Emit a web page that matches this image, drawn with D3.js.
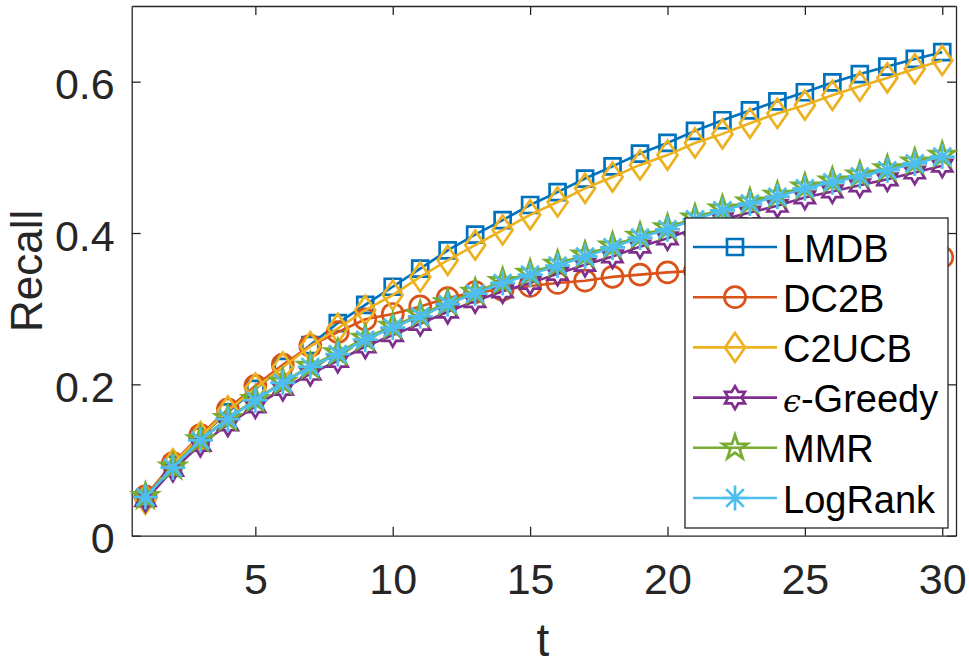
<!DOCTYPE html>
<meta charset="utf-8">
<script src="https://d3js.org/d3.v7.min.js"></script>
<style>

body {
  margin: 0;
  background: #fff;
}
svg {
  display: block;
}

.axis path, .axis line {
  stroke: #262626;
  stroke-width: 1.3px;
  fill: none;
}

.axis text {
  font-family: "Liberation Sans", Arial, sans-serif;
  font-size: 43px;
  fill: #262626;
}

.label {
  font-family: "Liberation Sans", Arial, sans-serif;
  font-size: 46px;
  fill: #262626;
}

.legend text {
  font-family: "Liberation Sans", Arial, sans-serif;
  font-size: 38px;
  fill: #000;
}

</style>
<body>
  <div class="chart"></div>
<script type="text/javascript">

// Data
var steps = [1, 2, 3, 4, 5, 6, 7, 8, 9, 10, 11, 12, 13, 14, 15,
             16, 17, 18, 19, 20, 21, 22, 23, 24, 25, 26, 27, 28, 29, 30];

var lmdb    = [0.050, 0.094, 0.131, 0.163, 0.194, 0.223, 0.252, 0.281, 0.305, 0.329,
               0.353, 0.377, 0.398, 0.417, 0.437, 0.454, 0.472, 0.488, 0.505, 0.519,
               0.535, 0.549, 0.562, 0.574, 0.586, 0.599, 0.610, 0.620, 0.630, 0.639];
var dc2b    = [0.052, 0.096, 0.133, 0.167, 0.198, 0.226, 0.251, 0.269, 0.286, 0.293,
               0.303, 0.314, 0.322, 0.325, 0.330, 0.334, 0.337, 0.342, 0.345, 0.348,
               0.350, 0.352, 0.354, 0.356, 0.358, 0.360, 0.362, 0.364, 0.366, 0.368];
var c2ucb   = [0.048, 0.095, 0.131, 0.165, 0.195, 0.223, 0.250, 0.274, 0.298, 0.318,
               0.342, 0.364, 0.384, 0.404, 0.424, 0.441, 0.459, 0.474, 0.490, 0.503,
               0.519, 0.531, 0.545, 0.558, 0.569, 0.582, 0.594, 0.605, 0.617, 0.628];
var greedy  = [0.047, 0.087, 0.120, 0.147, 0.171, 0.194, 0.214, 0.231, 0.250, 0.265,
               0.280, 0.296, 0.310, 0.323, 0.334, 0.346, 0.358, 0.369, 0.382, 0.393,
               0.406, 0.418, 0.427, 0.436, 0.447, 0.455, 0.463, 0.471, 0.480, 0.489];
var mmr     = [0.052, 0.091, 0.127, 0.155, 0.180, 0.203, 0.224, 0.242, 0.261, 0.277,
               0.292, 0.308, 0.322, 0.336, 0.347, 0.359, 0.371, 0.383, 0.396, 0.407,
               0.420, 0.432, 0.441, 0.450, 0.461, 0.469, 0.477, 0.485, 0.494, 0.503];
var logrank = [0.051, 0.090, 0.126, 0.154, 0.179, 0.202, 0.223, 0.240, 0.259, 0.275,
               0.290, 0.306, 0.320, 0.334, 0.345, 0.357, 0.369, 0.381, 0.394, 0.405,
               0.418, 0.430, 0.439, 0.448, 0.459, 0.467, 0.475, 0.483, 0.492, 0.501];

var names   = ["LMDB", "DC2B", "C2UCB", "-Greedy", "MMR", "LogRank"];
var colors  = ["#0072BD", "#D95319", "#EDB120", "#7E2F8E", "#77AC30", "#4DBEEE"];
var markers = ["square", "circle", "diamond", "hexagram", "pentagram", "asterisk"];
var values  = [lmdb, dc2b, c2ucb, greedy, mmr, logrank];

var xTicks = [5, 10, 15, 20, 25, 30];
var yTicks = [0, 0.2, 0.4, 0.6];

// Sizes
var width = 969,
    height = 665,
    box = {left: 131.7, right: 956, top: 6, bottom: 535.7};

var svg = d3.select(".chart").append("svg")
    .attr("width", width)
    .attr("height", height);

var x = d3.scaleLinear().domain([0.5, 30.5]).range([box.left, box.right]);
var y = d3.scaleLinear().domain([0, 0.7]).range([box.bottom, box.top]);

// Axes, ticks pointing inward, box on all four sides
svg.append("g")
    .attr("class", "axis")
    .attr("transform", "translate(0," + box.bottom + ")")
    .call(d3.axisBottom(x).tickValues(xTicks).tickSizeInner(-9).tickSizeOuter(0).tickPadding(28));

svg.append("g")
    .attr("class", "axis")
    .attr("transform", "translate(0," + box.top + ")")
    .call(d3.axisTop(x).tickValues(xTicks).tickSizeInner(-9).tickSizeOuter(0).tickFormat(""));

svg.append("g")
    .attr("class", "axis y-left")
    .attr("transform", "translate(" + box.left + ",0)")
    .call(d3.axisLeft(y).tickValues(yTicks).tickSizeInner(-9).tickSizeOuter(0).tickPadding(17)
          .tickFormat(function(d) { return d === 0 ? "0" : d3.format(".1f")(d); }));

svg.selectAll(".y-left text").attr("dy", "0.4em");

svg.append("g")
    .attr("class", "axis")
    .attr("transform", "translate(" + box.right + ",0)")
    .call(d3.axisRight(y).tickValues(yTicks).tickSizeInner(-9).tickSizeOuter(0).tickFormat(""));

svg.selectAll(".axis .domain").attr("stroke", "#262626");

// Axis labels
svg.append("text")
    .attr("class", "label")
    .attr("x", 543)
    .attr("y", 656)
    .attr("text-anchor", "middle")
    .text("t");

svg.append("text")
    .attr("class", "label")
    .attr("transform", "translate(42," + ((box.top + box.bottom) / 2) + ") rotate(-90)")
    .attr("text-anchor", "middle")
    .style("font-size", "44px")
    .text("Recall");

// Marker shapes centred on 0,0
function markerPath(type) {
  var p = d3.path(), i, a, r;
  if (type === "square") {
    p.rect(-8, -8, 16, 16);
  } else if (type === "circle") {
    p.moveTo(10.5, 0);
    p.arc(0, 0, 10.5, 0, 2 * Math.PI);
    p.closePath();
  } else if (type === "diamond") {
    p.moveTo(0, -14.5); p.lineTo(10, 0); p.lineTo(0, 14.5); p.lineTo(-10, 0); p.closePath();
  } else if (type === "hexagram") {
    for (i = 0; i < 12; i++) {
      a = -Math.PI / 2 + i * Math.PI / 6;
      r = i % 2 ? 11.5 / Math.sqrt(3) : 11.5;
      if (i === 0) p.moveTo(r * Math.cos(a), r * Math.sin(a)); else p.lineTo(r * Math.cos(a), r * Math.sin(a));
    }
    p.closePath();
  } else if (type === "pentagram") {
    for (i = 0; i < 10; i++) {
      a = -Math.PI / 2 + i * Math.PI / 5;
      r = i % 2 ? 13 * 0.382 : 13;
      if (i === 0) p.moveTo(r * Math.cos(a), r * Math.sin(a)); else p.lineTo(r * Math.cos(a), r * Math.sin(a));
    }
    p.closePath();
  } else if (type === "asterisk") {
    for (i = 0; i < 4; i++) {
      a = i * Math.PI / 4;
      p.moveTo(12.5 * Math.cos(a), 12.5 * Math.sin(a));
      p.lineTo(-12.5 * Math.cos(a), -12.5 * Math.sin(a));
    }
  }
  return p.toString();
}

var line = d3.line()
    .x(function(d, i) { return x(steps[i]); })
    .y(function(d) { return y(d); });

// Series, drawn in legend order so LogRank ends up on top
values.forEach(function(vals, k) {
  var g = svg.append("g").attr("class", "series");

  g.append("path")
      .datum(vals)
      .attr("d", line)
      .attr("fill", "none")
      .attr("stroke", colors[k])
      .attr("stroke-width", 2.6);

  g.selectAll(".mark")
      .data(vals)
      .enter().append("path")
      .attr("class", "mark")
      .attr("transform", function(d, i) { return "translate(" + x(steps[i]) + "," + y(d) + ")"; })
      .attr("d", markerPath(markers[k]))
      .attr("fill", "none")
      .attr("stroke", colors[k])
      .attr("stroke-width", 2.7);
});

// Legend
var legend = svg.append("g")
    .attr("class", "legend")
    .attr("transform", "translate(685,218)");

legend.append("rect")
    .attr("width", 263)
    .attr("height", 310)
    .attr("fill", "#fff")
    .attr("stroke", "#262626")
    .attr("stroke-width", 1.3);

var item = legend.selectAll(".item")
    .data(names)
    .enter().append("g")
    .attr("class", "item")
    .attr("transform", function(d, i) { return "translate(0," + (29 + i * 50.2) + ")"; });

item.append("line")
    .attr("x1", 8)
    .attr("x2", 92)
    .attr("stroke", function(d, i) { return colors[i]; })
    .attr("stroke-width", 2.6);

item.append("path")
    .attr("transform", "translate(50,0)")
    .attr("d", function(d, i) { return markerPath(markers[i]); })
    .attr("fill", "none")
    .attr("stroke", function(d, i) { return colors[i]; })
    .attr("stroke-width", 2.7);

var labels = item.append("text")
    .attr("x", 98)
    .attr("y", 14.5);

labels.filter(function(d, i) { return i === 3; })
    .append("tspan")
    .style("font-family", "'DejaVu Serif', serif")
    .style("font-style", "italic")
    .style("font-size", "32px")
    .text("\u03F5");

labels.append("tspan")
    .text(function(d) { return d; });

</script>
</body>
</html>
